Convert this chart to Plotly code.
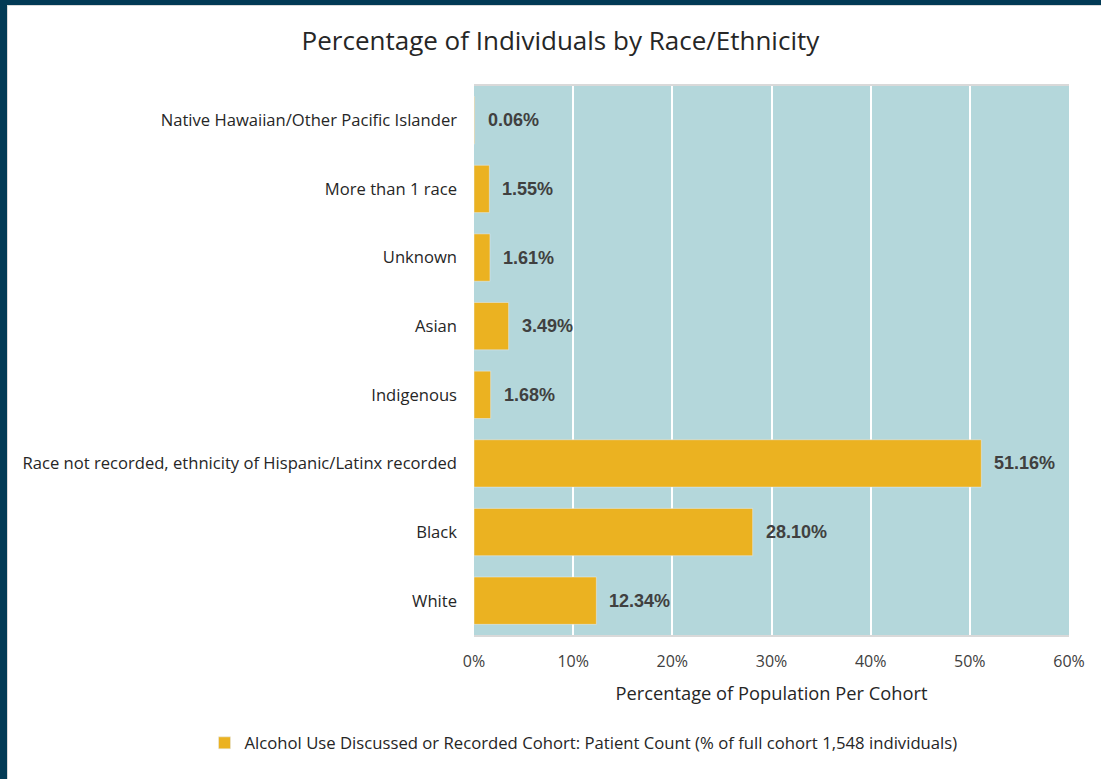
import plotly.graph_objects as go

categories = ["White", "Black", "Race not recorded, ethnicity of Hispanic/Latinx recorded",
              "Indigenous", "Asian", "Unknown", "More than 1 race",
              "Native Hawaiian/Other Pacific Islander"]
values = [12.34, 28.10, 51.16, 1.68, 3.49, 1.61, 1.55, 0.06]
tick_vals = [0, 10, 20, 30, 40, 50, 60]
tick_text = ["0%", "10%", "20%", "30%", "40%", "50%", "60%"]
series_name = "Alcohol Use Discussed or Recorded Cohort: Patient Count (% of full cohort 1,548 individuals)"

W, H = 1101, 779
ml, mr, mt, mb = 474, 32, 86, 144
pw, ph = W - ml - mr, H - mt - mb
FONT = "Open Sans, Lato, sans-serif"

def px_x(p):
    return (p - ml) / pw

def px_y(p):
    return 1 - (p - mt) / ph

fig = go.Figure()
fig.add_trace(go.Bar(
    y=categories, x=values, orientation="h",
    marker=dict(color="#EBB221"),
    width=0.69,
    name=series_name,
    showlegend=True,
    hoverinfo="x+y",
))

annotations = []
for c, v in zip(categories, values):
    annotations.append(dict(
        x=v, y=c, xref="x", yref="y", text=f"{v:.2f}%", showarrow=False,
        xanchor="left", xshift=11,
        font=dict(family="Liberation Sans, Arial", size=18, color="#404040", weight="bold"),
    ))

shapes = [
    dict(type="rect", xref="paper", yref="paper", x0=px_x(0), x1=px_x(7), y0=px_y(H), y1=px_y(0),
         fillcolor="#023A55", line=dict(width=0), layer="above"),
    dict(type="rect", xref="paper", yref="paper", x0=px_x(0), x1=px_x(W), y0=px_y(5), y1=px_y(0),
         fillcolor="#023A55", line=dict(width=0), layer="above"),
    dict(type="line", xref="paper", yref="paper", x0=px_x(7.5), x1=px_x(7.5), y0=px_y(H), y1=px_y(5),
         line=dict(color="#D9D9D9", width=1), layer="above"),
    dict(type="line", xref="paper", yref="paper", x0=px_x(7), x1=px_x(W), y0=px_y(5.5), y1=px_y(5.5),
         line=dict(color="#D9D9D9", width=1), layer="above"),
]

fig.update_layout(
    width=W, height=H,
    margin=dict(l=ml, r=mr, t=mt, b=mb),
    paper_bgcolor="white",
    plot_bgcolor="#B4D7DB",
    font=dict(family=FONT, size=16, color="#262626"),
    title=dict(text="Percentage of Individuals by Race/Ethnicity", x=0.509, xanchor="center",
               y=1 - 41 / H, yanchor="middle",
               font=dict(family=FONT, size=26, color="#262626")),
    xaxis=dict(range=[0, 60], tickvals=tick_vals, ticktext=tick_text,
               showgrid=True, gridcolor="white", gridwidth=2,
               showline=True, linecolor="#D9D9D9", linewidth=2, mirror=True,
               zeroline=False, ticks="", ticklen=0, ticklabelstandoff=11,
               tickfont=dict(size=16, color="#404040"),
               title=dict(text="Percentage of Population Per Cohort", standoff=16,
                          font=dict(size=18.3, color="#262626"))),
    yaxis=dict(showgrid=False, zeroline=False, ticks="", ticklen=0, ticklabelstandoff=16,
               tickfont=dict(size=16.6, color="#262626"),
               range=[-0.5, 7.5]),
    bargap=0.31,
    showlegend=True,
    legend=dict(orientation="h", x=0.530, xanchor="center", xref="container",
                y=1 - 743 / H, yref="container", yanchor="middle",
                font=dict(size=16.7, color="#262626"), itemwidth=30),
    annotations=annotations,
    shapes=shapes,
)

fig.write_html("out.html")
